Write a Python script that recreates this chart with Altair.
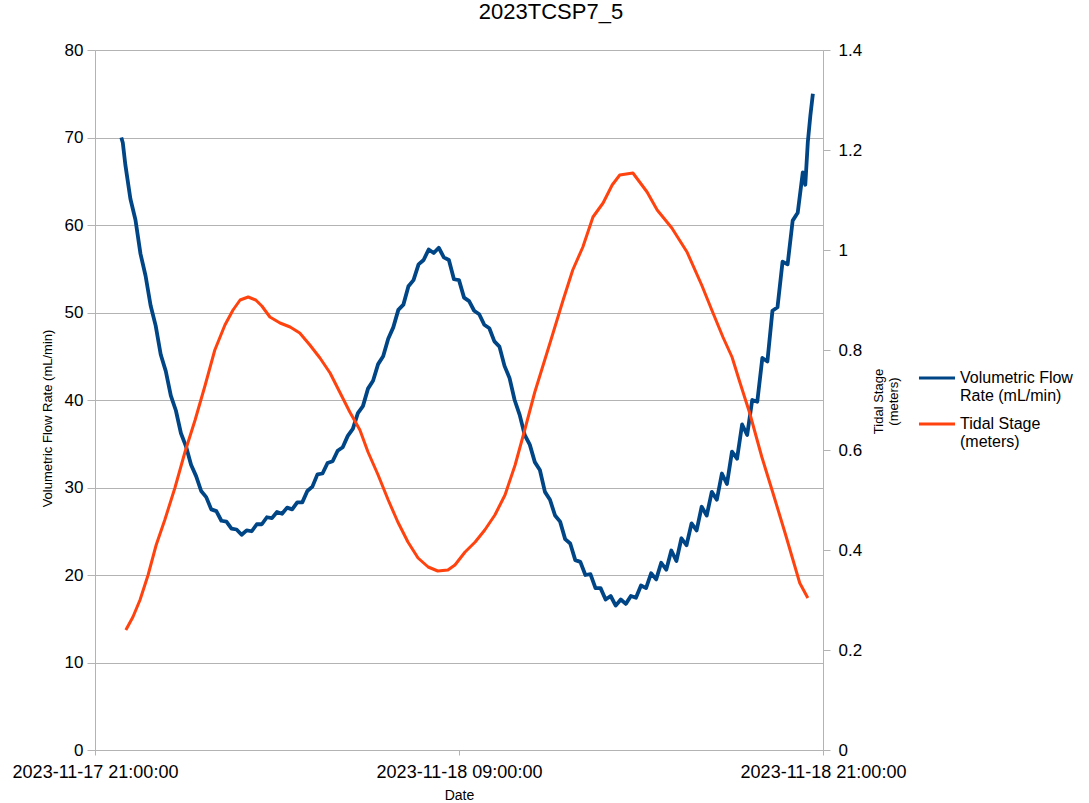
import altair as alt
import pandas as pd

# ---- data ----
flow_minutes = [52, 55, 60, 70, 80, 90, 100, 110, 120, 130, 140, 150, 160, 170, 180, 190, 200,
                210, 220, 230, 240, 250, 260, 270, 280, 290, 300, 310, 320, 330, 340, 350, 360,
                370, 380, 390, 400, 410, 420, 430, 440, 450, 460, 470, 480, 490, 500, 510, 520,
                530, 540, 550, 560, 570, 580, 590, 600, 610, 620, 630, 640, 650, 660, 670, 680,
                690, 700, 710, 720, 730, 740, 750, 760, 770, 780, 790, 800, 810, 820, 830, 840,
                850, 860, 870, 880, 890, 900, 910, 920, 930, 940, 950, 960, 970, 980, 990, 1000,
                1010, 1020, 1030, 1040, 1050, 1060, 1070, 1080, 1090, 1100, 1110, 1120, 1130,
                1140, 1150, 1160, 1170, 1180, 1190, 1200, 1210, 1220, 1230, 1240, 1250, 1260,
                1270, 1280, 1290, 1300, 1310, 1320, 1330, 1340, 1350, 1360, 1370, 1380, 1390,
                1400, 1405, 1410, 1415, 1420]
flow_values = [70.0, 69.4, 66.9, 63.0, 60.6, 56.7, 54.2, 50.8, 48.5, 45.2, 43.3, 40.5, 38.8, 36.2,
               34.7, 32.6, 31.3, 29.6, 28.9, 27.5, 27.3, 26.2, 26.1, 25.3, 25.2, 24.6, 25.1, 25.0,
               25.8, 25.8, 26.6, 26.5, 27.2, 27.0, 27.7, 27.5, 28.3, 28.3, 29.6, 30.1, 31.5, 31.6,
               32.8, 33.0, 34.2, 34.6, 35.9, 36.7, 38.5, 39.3, 41.3, 42.2, 44.1, 45.0, 47.0, 48.3,
               50.3, 50.9, 53.0, 53.7, 55.5, 56.0, 57.2, 56.8, 57.4, 56.3, 56.0, 53.8, 53.7, 51.7,
               51.3, 50.2, 49.8, 48.6, 48.2, 46.7, 46.1, 43.9, 42.5, 40.0, 38.3, 36.0, 34.9, 32.9,
               32.0, 29.5, 28.6, 26.8, 26.1, 24.1, 23.6, 21.7, 21.5, 20.0, 20.1, 18.5, 18.5, 17.2,
               17.6, 16.5, 17.2, 16.7, 17.6, 17.4, 18.8, 18.5, 20.2, 19.5, 21.4, 20.6, 22.8, 21.6,
               24.2, 23.4, 25.9, 25.1, 27.8, 26.8, 29.5, 28.6, 31.6, 30.4, 34.1, 33.3, 37.2, 36.0,
               40.0, 39.8, 44.8, 44.4, 50.2, 50.6, 55.8, 55.5, 60.5, 61.4, 66.0, 64.6, 69.5, 72.5,
               75.0]

tide_minutes = [61, 75, 89, 105, 121, 138, 158, 178, 198, 218, 237, 257, 273, 287, 303, 318, 330,
                346, 366, 386, 405, 425, 445, 465, 485, 504, 524, 540, 560, 580, 599, 619, 639,
                659, 678, 698, 712, 732, 752, 771, 791, 811, 831, 850, 870, 900, 926, 945, 965,
                985, 1005, 1023, 1038, 1064, 1092, 1112, 1141, 1171, 1200, 1220, 1242, 1260,
                1276, 1295, 1319, 1341, 1365, 1394, 1410]
tide_values = [0.24, 0.266, 0.30, 0.35, 0.41, 0.46, 0.524, 0.596, 0.66, 0.73, 0.80, 0.85, 0.88,
               0.90, 0.906, 0.90, 0.888, 0.866, 0.854, 0.846, 0.834, 0.81, 0.784, 0.754, 0.714,
               0.676, 0.64, 0.596, 0.55, 0.50, 0.456, 0.416, 0.384, 0.366, 0.358, 0.36, 0.37,
               0.396, 0.416, 0.44, 0.47, 0.51, 0.57, 0.64, 0.716, 0.814, 0.90, 0.96, 1.006,
               1.066, 1.094, 1.13, 1.15, 1.154, 1.116, 1.08, 1.044, 0.996, 0.93, 0.88, 0.826,
               0.786, 0.734, 0.674, 0.586, 0.514, 0.434, 0.334, 0.304]

series_names = ["Volumetric Flow Rate (mL/min)", "Tidal Stage (meters)"]
series_colors = ["#004586", "#ff420e"]
left_ticks = [0, 10, 20, 30, 40, 50, 60, 70, 80]
right_ticks = [0, 0.2, 0.4, 0.6, 0.8, 1.0, 1.2, 1.4]

start = pd.Timestamp("2023-11-17 21:00:00")
flow_df = pd.DataFrame({
    "Date": [start + pd.Timedelta(minutes=m) for m in flow_minutes],
    "value": flow_values,
    "series": series_names[0],
})
tide_df = pd.DataFrame({
    "Date": [start + pd.Timedelta(minutes=m) for m in tide_minutes],
    "value": tide_values,
    "series": series_names[1],
})

FONT = "Liberation Sans"
GRID = "#b3b3b3"

x_dom = [alt.DateTime(year=2023, month=11, date=17, hours=21),
         alt.DateTime(year=2023, month=11, date=18, hours=21)]
x_ticks = [alt.DateTime(year=2023, month=11, date=17, hours=21),
           alt.DateTime(year=2023, month=11, date=18, hours=9),
           alt.DateTime(year=2023, month=11, date=18, hours=21)]

x_enc = alt.X("Date:T", scale=alt.Scale(domain=x_dom),
              axis=alt.Axis(values=x_ticks, format="%Y-%m-%d %H:%M:%S", title="Date",
                            grid=False, labelFlush=False, labelOverlap=False,
                            labelFontSize=18, labelFont=FONT, labelColor="black",
                            labelPadding=8, tickSize=5, tickColor=GRID, domainColor=GRID,
                            titleFontSize=14, titleFont=FONT, titleFontWeight="normal",
                            titleColor="black", titlePadding=7))

color_enc = alt.Color("series:N",
                      scale=alt.Scale(domain=series_names, range=series_colors),
                      legend=alt.Legend(title=None, orient="none", legendX=822, legendY=308,
                                        symbolType="stroke", symbolSize=1300,
                                        symbolStrokeWidth=3, labelFontSize=16, labelFont=FONT,
                                        labelColor="black", labelOffset=3, padding=0,
                                        rowPadding=-2, labelLimit=300,
                                        labelExpr="datum.label == 'Volumetric Flow Rate (mL/min)' ? ['Volumetric Flow', 'Rate (mL/min)'] : ['Tidal Stage', '(meters)']"))

flow = alt.Chart(flow_df).mark_line(strokeWidth=3.8, strokeJoin="round").encode(
    x=x_enc,
    y=alt.Y("value:Q", scale=alt.Scale(domain=[0, 80], nice=False),
            axis=alt.Axis(values=left_ticks, title="Volumetric Flow Rate (mL/min)",
                          grid=True, gridColor=GRID, domainColor=GRID, tickColor=GRID,
                          tickSize=8, labelFontSize=17, labelFont=FONT, labelColor="black",
                          labelPadding=4, titleFontSize=13, titleFont=FONT,
                          titleFontWeight="normal", titleColor="black",
                          titleX=-48, titleY=368, titleAngle=-90, titleAlign="center",
                          titleBaseline="middle")),
    color=color_enc,
)

tide = alt.Chart(tide_df).mark_line(strokeWidth=3, strokeJoin="round").encode(
    x=x_enc,
    y=alt.Y("value:Q", scale=alt.Scale(domain=[0, 1.4], nice=False),
            axis=alt.Axis(orient="right", values=right_ticks, format=".1~f",
                          title=["Tidal Stage", "(meters)"], grid=False,
                          domainColor=GRID, tickColor=GRID, tickSize=7,
                          labelFontSize=17, labelFont=FONT, labelColor="black",
                          labelPadding=8, titleFontSize=13, titleFont=FONT,
                          titleFontWeight="normal", titleColor="black",
                          titleX=55, titleY=351, titleAngle=-90, titleAlign="center",
                          titleBaseline="middle")),
    color=color_enc,
)

chart = alt.layer(flow, tide).resolve_scale(y="independent").properties(
    width=728, height=700,
    title=alt.TitleParams("2023TCSP7_5", fontSize=22, font=FONT, fontWeight="normal",
                          color="black", anchor="middle", dx=92, offset=17),
    autosize=alt.AutoSizeParams(type="none"),
    padding={"left": 95, "top": 50, "right": 266, "bottom": 53},
).configure_view(stroke=None).configure(background="white")

chart.save("out.html", embed_options={"renderer": "svg", "actions": False})
